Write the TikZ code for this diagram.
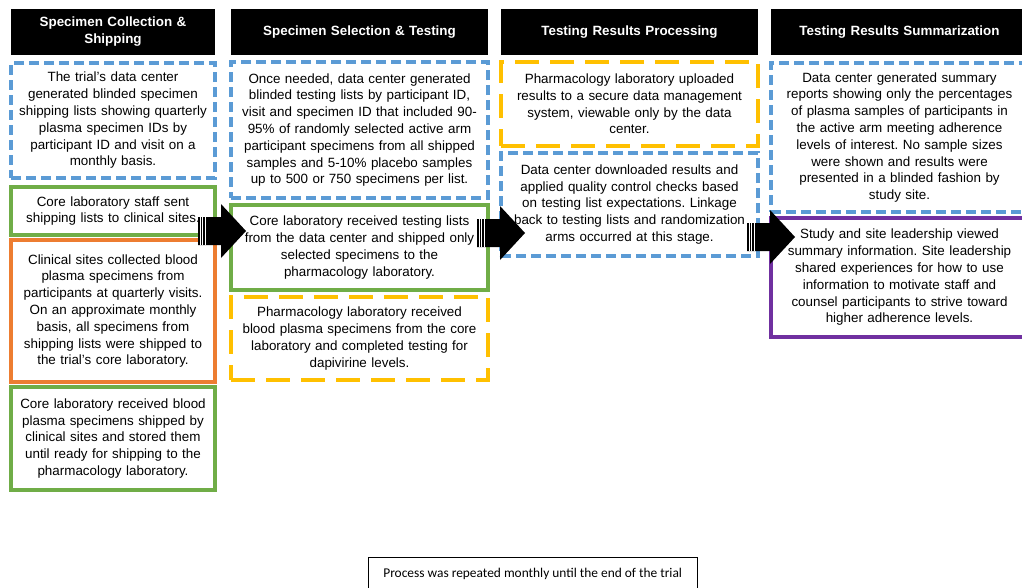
\documentclass[tikz,border=0pt]{standalone}
\usepackage{fontspec}
\setmainfont{Liberation Sans}
\newfontfamily\notefont{Carlito}
\usepackage{xcolor}
\usetikzlibrary{positioning}

\definecolor{boxblue}{HTML}{5B9BD5}
\definecolor{boxgreen}{HTML}{70AD47}
\definecolor{boxorange}{HTML}{ED7D31}
\definecolor{boxyellow}{HTML}{FFC000}
\definecolor{boxpurple}{HTML}{7030A0}

\newcommand{\stripedarrow}[2]{%
    \fill[black] (#1,#2-14) -- (#1+23,#2-14) -- (#1+23,#2-27) -- (#1+48,#2)
        -- (#1+23,#2+27) -- (#1+23,#2+14) -- (#1,#2+14) -- cycle;
    \foreach \dx in {2.2,4.9,7.6}
        \draw[white, line width=0.9pt] (#1+\dx,#2-14) -- (#1+\dx,#2+14);
}

\begin{document}
\frenchspacing
\begin{tikzpicture}[
    x=1pt, y=-1pt,
    font=\fontsize{13.4}{16.8}\selectfont,
    box/.style={rectangle, line width=3.1pt, outer sep=0pt, align=center, inner sep=3pt},
    hdr/.style={rectangle, fill=black, text=white, font=\fontsize{13.4}{17}\selectfont\bfseries, align=center, inner sep=3pt, outer sep=0pt, minimum height=46pt},
    colA/.style={minimum width=204pt, text width=198pt},
    colB/.style={minimum width=257pt, text width=251pt},
    blubox/.style={box, draw=boxblue, dash pattern=on 10pt off 5pt},
    ylwbox/.style={box, draw=boxyellow, dash pattern=on 24pt off 11pt},
    grnbox/.style={box, draw=boxgreen},
    orgbox/.style={box, draw=boxorange},
    purbox/.style={box, draw=boxpurple},
    notebox/.style={rectangle, draw, thin, font=\notefont\fontsize{13.4}{16}\selectfont, minimum width=329pt, minimum height=34pt}
]
    \path[use as bounding box, fill=white] (0,0) rectangle (1022,587);

    \node[hdr, colA, anchor=north west] (hdrCollect) at (11,9) {Specimen Collection \&\\Shipping};
    \node[hdr, colB, anchor=north west] (hdrSelect) at (231,9) {Specimen Selection \& Testing};
    \node[hdr, colB, anchor=north west] (hdrProcess) at (501,9) {Testing Results Processing};
    \node[hdr, colB, anchor=north west] (hdrSummary) at (771,9) {Testing Results Summarization};

    \node[blubox, colA, minimum height=115pt, below=8pt of hdrCollect] (listGen) {The trial’s data center\\generated blinded specimen\\shipping lists showing quarterly\\plasma specimen IDs by\\participant ID and visit on a\\monthly basis.};
    \node[grnbox, colA, minimum height=48pt, below=9pt of listGen] (listSend) {Core laboratory staff sent\\shipping lists to clinical sites.};
    \node[orgbox, colA, minimum height=142pt, below=5pt of listSend] (siteCollect) {Clinical sites collected blood\\plasma specimens from\\participants at quarterly visits.\\On an approximate monthly\\basis, all specimens from\\shipping lists were shipped to\\the trial’s core laboratory.};
    \node[grnbox, colA, minimum height=103pt, below=5pt of siteCollect] (coreStore) {Core laboratory received blood\\plasma specimens shipped by\\clinical sites and stored them\\until ready for shipping to the\\pharmacology laboratory.};

    \node[blubox, colB, minimum height=136pt, below=7pt of hdrSelect] (testGen) {Once needed, data center generated\\blinded testing lists by participant ID,\\visit and specimen ID that included 90-\\95\% of randomly selected active arm\\participant specimens from all shipped\\samples and 5-10\% placebo samples\\up to 500 or 750 specimens per list.};
    \node[grnbox, colB, minimum height=85pt, below=7pt of testGen] (coreShip) {Core laboratory received testing lists\\from the data center and shipped only\\selected specimens to the\\pharmacology laboratory.};
    \node[ylwbox, colB, minimum height=83pt, below=7pt of coreShip] (pharmTest) {Pharmacology laboratory received\\blood plasma specimens from the core\\laboratory and completed testing for\\dapivirine levels.};

    \node[ylwbox, colB, minimum height=84pt, below=7pt of hdrProcess] (pharmUpload) {Pharmacology laboratory uploaded\\results to a secure data management\\system, viewable only by the data\\center.};
    \node[blubox, colB, minimum height=103pt, below=7pt of pharmUpload] (dataQC) {Data center downloaded results and\\applied quality control checks based\\on testing list expectations. Linkage\\back to testing lists and randomization\\arms occurred at this stage.};

    \node[blubox, colB, minimum height=149pt, below=8pt of hdrSummary] (dataReport) {Data center generated summary\\reports showing only the percentages\\of plasma samples of participants in\\the active arm meeting adherence\\levels of interest. No sample sizes\\were shown and results were\\presented in a blinded fashion by\\study site.};
    \node[purbox, colB, minimum height=119pt, below=6pt of dataReport] (leaderView) {Study and site leadership viewed\\summary information. Site leadership\\shared experiences for how to use\\information to motivate staff and\\counsel participants to strive toward\\higher adherence levels.};

    \node[notebox, anchor=north west] (repeatNote) at (368,557) {Process was repeated monthly until the end of the trial};

    \stripedarrow{198}{231}
    \stripedarrow{477}{233}
    \stripedarrow{747}{237}
\end{tikzpicture}
\end{document}
